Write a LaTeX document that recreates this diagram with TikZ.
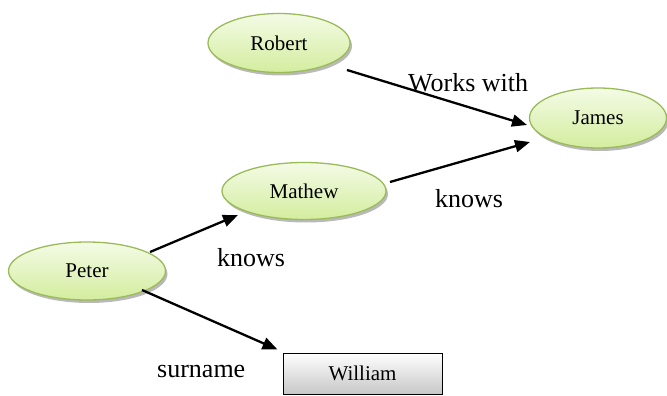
\documentclass[tikz,border=0pt]{standalone}
\usepackage{fontspec}
\setmainfont{Liberation Serif}
\usetikzlibrary{shapes.geometric,shadows,arrows.meta}
\definecolor{elborder}{HTML}{9BBB59}
\definecolor{eltop}{HTML}{F4FBE6}
\definecolor{elbot}{HTML}{D3ED9E}
\begin{document}
\begin{tikzpicture}[x=1pt,y=-1pt,
  ent/.style={ellipse, draw=elborder, line width=1.3pt, top color=eltop, bottom color=elbot,
    inner sep=0pt, font=\fontsize{21}{24}\selectfont,
    drop shadow={shadow xshift=2pt, shadow yshift=-3pt, fill=black!50, opacity=0.55}},
  lit/.style={rectangle, draw=black, line width=1pt, top color=white, bottom color=black!22,
    minimum width=159pt, minimum height=41pt, inner sep=0pt, font=\fontsize{21}{24}\selectfont},
  rel/.style={draw, line width=2.3pt, -{Triangle[length=15pt,width=12pt]}},
  lab/.style={font=\fontsize{26}{30}\selectfont, inner sep=0pt, anchor=base west}]
\useasboundingbox (0,0) rectangle (667,396);
\node[ent, minimum width=142pt, minimum height=59pt] (robert) at (279,43) {Robert};
\node[ent, minimum width=137pt, minimum height=60pt] (james) at (598,118) {James};
\node[ent, minimum width=164pt, minimum height=57pt] (mathew) at (304,191) {Mathew};
\node[ent, minimum width=157pt, minimum height=58pt] (peter) at (87,271) {Peter};
\node[lit] (william) at (362.5,373.5) {William};

\draw[rel] ([shift={(68,27)}]robert.center) -- ([shift={(-71,7)}]james.center);
\draw[rel] ([shift={(86,-9)}]mathew.center) -- ([shift={(-68,24)}]james.center);
\draw[rel] ([shift={(63,-19)}]peter.center) -- ([shift={(-66,24)}]mathew.center);
\draw[rel] ([shift={(55,19)}]peter.center) -- ([shift={(-5,-3)}]william.north west);

\node[lab] (l1) at (408,92) {Works with};
\node[lab] (l2) at (435,207) {knows};
\node[lab] (l3) at (217,266) {knows};
\node[lab] (l4) at (157,377) {surname};
\end{tikzpicture}
\end{document}
